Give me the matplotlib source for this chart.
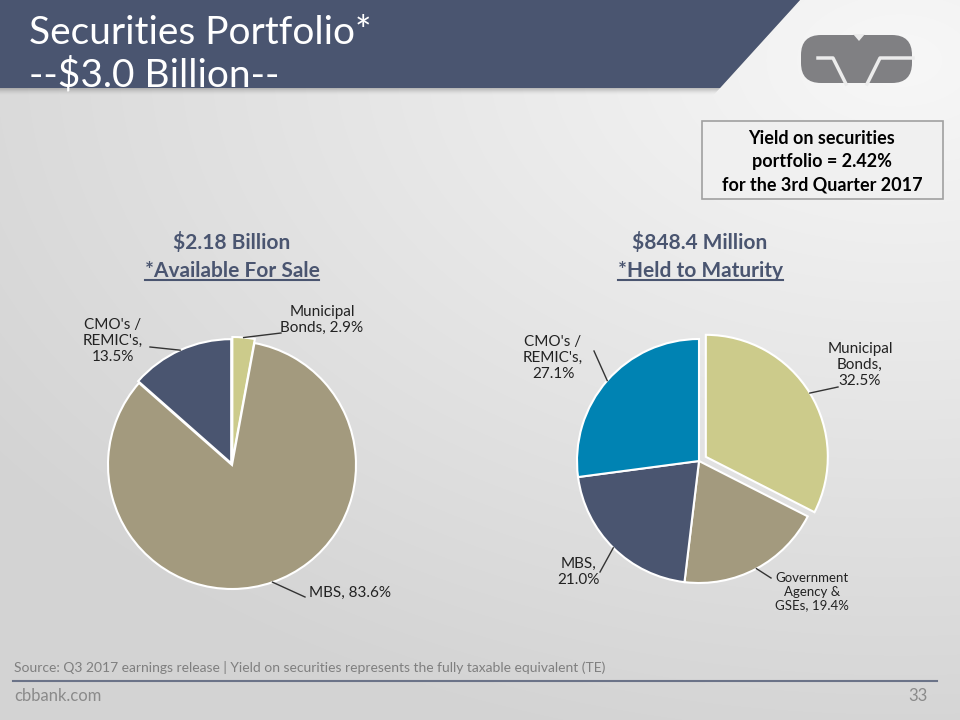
import numpy as np
import matplotlib
matplotlib.use("Agg")
import matplotlib.pyplot as plt
from matplotlib.patches import Polygon, Rectangle, FancyBboxPatch

plt.rcParams['font.family'] = ['Lato', 'DejaVu Sans']

# data
afs_labels = ["Municipal\nBonds, 2.9%", "MBS, 83.6%", "CMO's /\nREMIC's,\n13.5%"]
afs_values = [2.9, 83.6, 13.5]
afs_colors = ["#cccb8b", "#a39a7e", "#4a5570"]

htm_labels = ["Municipal\nBonds,\n32.5%", "Government\nAgency &\nGSEs, 19.4%", "MBS,\n21.0%", "CMO's /\nREMIC's,\n27.1%"]
htm_values = [32.5, 19.4, 21.0, 27.1]
htm_colors = ["#cccb8b", "#a39a7e", "#4a5570", "#0083b3"]

W, H = 960, 720
fig = plt.figure(figsize=(9.6, 7.2), dpi=100)
ax = fig.add_axes([0, 0, 1, 1])

def Y(y):  # image row -> plot y
    return H - y

# background gradient
yy, xx = np.mgrid[0:H, 0:W]
d = np.sqrt(((xx - 900) / 1100.0) ** 2 + ((yy - 60) / 700.0) ** 2)
bg = 0.97 - 0.14 * np.clip(d, 0, 1)
ax.imshow(np.dstack([bg, bg, bg]), extent=[0, W, 0, H], origin='upper', zorder=0)

# header band with shadow
for i in range(8):
    a = 0.06 * (1 - i / 8)
    ax.add_patch(Polygon([(0, Y(88 + i)), (720 - i * 0.9, Y(88 + i)), (800, Y(0)), (0, Y(0))],
                         closed=True, fc="black", alpha=a, ec="none", zorder=1))
ax.add_patch(Polygon([(0, Y(0)), (800, Y(0)), (720, Y(88)), (0, Y(88))],
                     closed=True, fc="#4a5570", ec="none", zorder=2))
ax.text(29, Y(33), "Securities Portfolio*", color="white", fontsize=28,
        va="center", ha="left", zorder=3)
ax.text(29, Y(75), "--$3.0 Billion--", color="white", fontsize=28,
        va="center", ha="left", zorder=3)

# logo (rough CVB)
g = "#808083"
ax.add_patch(FancyBboxPatch((801, Y(83)), 111, 48, boxstyle="round,pad=0,rounding_size=20",
                            fc=g, ec="none", zorder=2))
bgc = "#ececec"
ax.plot([818, 833, 846], [Y(58), Y(58), Y(84)], color=bgc, lw=2.5, zorder=3)
ax.plot([867, 880, 913], [Y(84), Y(58), Y(58)], color=bgc, lw=2.5, zorder=3)
ax.add_patch(Polygon([(853, Y(34)), (859, Y(41)), (865, Y(34))], closed=True, fc=bgc, ec="none", zorder=3))

# yield box
ax.add_patch(Rectangle((702, Y(199)), 241, 78, fc="#f0f0f0", ec="#a0a0a0", lw=1.2, zorder=2))
for txt, yy_ in [("Yield on securities", 138), ("portfolio = 2.42%", 161), ("for the 3rd Quarter 2017", 185)]:
    ax.text(822, Y(yy_), txt, ha="center", va="center", fontsize=13, fontweight="bold",
            color="black", zorder=3)

# pie titles
title_col = "#4a5570"
under = []
for cx, t1, t2 in [(232, "$2.18 Billion", "*Available For Sale"), (700, "$848.4 Million", "*Held to Maturity")]:
    ax.text(cx, Y(243), t1, ha="center", va="center", fontsize=15, fontweight="bold", color=title_col, zorder=3)
    under.append(ax.text(cx, Y(271), t2, ha="center", va="center", fontsize=15, fontweight="bold",
                         color=title_col, zorder=3))

# pies (explode given in pixels since radius is in pixels)
w1, _ = ax.pie(afs_values, colors=afs_colors, startangle=90, counterclock=False,
               center=(232, Y(465)), radius=124, explode=[4, 0, 2],
               wedgeprops=dict(ec="white", lw=1.5))
w2, _ = ax.pie(htm_values, colors=htm_colors, startangle=90, counterclock=False,
               center=(699, Y(461)), radius=122, explode=[8, 0, 0, 0],
               wedgeprops=dict(ec="white", lw=1.5))
for w in list(w1) + list(w2):
    w.set_zorder(2)

def edge_point(w):
    ang = np.deg2rad((w.theta1 + w.theta2) / 2)
    cx, cy = w.center
    return cx + w.r * np.cos(ang), cy + w.r * np.sin(ang)

# label positions (text center, leader end) in image coords
afs_pos = [((322, 320), (281, 333), 11), ((350, 593), (305, 597), 11), ((113, 341), (150, 347), 11)]
htm_pos = [((860, 365), (838, 387), 11), ((812, 592), (771, 578), 9.5),
           ((578, 572), (600, 572), 11), ((553, 358), (594, 351), 11)]

for wedges, labels, pos in [(w1, afs_labels, afs_pos), (w2, htm_labels, htm_pos)]:
    for w, lab, ((tx, ty), (lx, ly), fs) in zip(wedges, labels, pos):
        ex, ey = edge_point(w)
        ax.plot([ex, lx], [ey, Y(ly)], color="#333333", lw=1, zorder=3)
        ax.text(tx, Y(ty), lab, ha="center", va="center", fontsize=fs, color="#222222",
                linespacing=1.15, zorder=3)

# footer
ax.text(14, Y(667), "Source: Q3 2017 earnings release | Yield on securities represents the fully taxable equivalent (TE)",
        fontsize=10, color="#7f7f7f", va="center", ha="left", zorder=3)
ax.plot([13, 937], [Y(681), Y(681)], color="#6b7388", lw=1.5, zorder=3)
ax.text(14, Y(696), "cbbank.com", fontsize=12, color="#8a8a8a", va="center", ha="left", zorder=3)
ax.text(928, Y(696), "33", fontsize=12, color="#8a8a8a", va="center", ha="right", zorder=3)

ax.set_xlim(0, W)
ax.set_ylim(0, H)
ax.set_aspect("auto")
ax.axis("off")

fig.canvas.draw()
r = fig.canvas.get_renderer()
inv = ax.transData.inverted()
for t in under:
    bb = t.get_window_extent(renderer=r)
    (x0, y0), (x1, y1) = inv.transform([(bb.x0, bb.y0), (bb.x1, bb.y1)])
    ax.plot([x0, x1], [y0 + 1, y0 + 1], color=title_col, lw=1.5, zorder=3)

fig.savefig("out.png", dpi=100)
